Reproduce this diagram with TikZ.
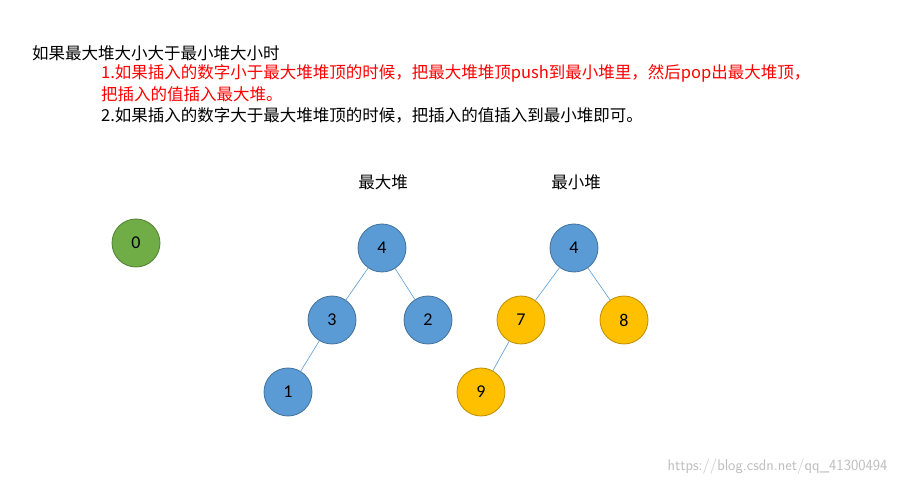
\documentclass[tikz,border=0pt]{standalone}
\usepackage{fontspec}
\setmainfont{Noto Sans CJK SC}
\newfontfamily\digitfont{Carlito}
\begin{document}
\begin{tikzpicture}[x=1pt,y=-1pt,
  nd/.style={circle,draw,line width=0.8pt,minimum size=48pt,inner sep=0pt,font=\digitfont\fontsize{18}{18}\selectfont},
  bluen/.style={nd,fill={rgb,255:red,91;green,155;blue,213},draw={rgb,255:red,65;green,113;blue,156}},
  goldn/.style={nd,fill={rgb,255:red,255;green,192;blue,0},draw={rgb,255:red,188;green,140;blue,0}},
  greenn/.style={nd,fill={rgb,255:red,112;green,173;blue,71},draw={rgb,255:red,80;green,126;blue,50}},
  edge/.style={draw={rgb,255:red,91;green,155;blue,213},line width=0.6pt},
  txt/.style={anchor=west,inner sep=0pt,font=\fontsize{16.5}{16.5}\selectfont}]
\useasboundingbox[fill=white] (0,0) rectangle (900,486);
\node[txt] (t0) at (32,53) {如果最大堆大小大于最小堆大小时};
\node[txt,text=red] (t1) at (101,73) {1.如果插入的数字小于最大堆堆顶的时候，把最大堆堆顶push到最小堆里，然后pop出最大堆顶，};
\node[txt,text=red] (t2) at (101,94) {把插入的值插入最大堆。};
\node[txt] (t3) at (101,115) {2.如果插入的数字大于最大堆堆顶的时候，把插入的值插入到最小堆即可。};
\node[font=\fontsize{16.5}{16.5}\selectfont] (l1) at (383,182) {最大堆};
\node[font=\fontsize{16.5}{16.5}\selectfont] (l2) at (576,182) {最小堆};
\node[greenn] (g0) at (136,243) {0};
\node[bluen] (a4) at (382,248) {4};
\node[bluen] (a3) at (332,320) {3};
\node[bluen] (a2) at (428,320) {2};
\node[bluen] (a1) at (288,392) {1};
\node[bluen] (b4) at (574,248) {4};
\node[goldn] (b7) at (521,320) {7};
\node[goldn] (b8) at (624,320) {8};
\node[goldn] (b9) at (481,392) {9};
\draw[edge] (a4) -- (a3); \draw[edge] (a4) -- (a2); \draw[edge] (a3) -- (a1);
\draw[edge] (b4) -- (b7); \draw[edge] (b4) -- (b8); \draw[edge] (b7) -- (b9);
\node[anchor=east,text=black!25,font=\sffamily\fontsize{15.5}{15.5}\selectfont] (wm) at (891,467) {https://blog.csdn.net/qq\_41300494};
\end{tikzpicture}
\end{document}
